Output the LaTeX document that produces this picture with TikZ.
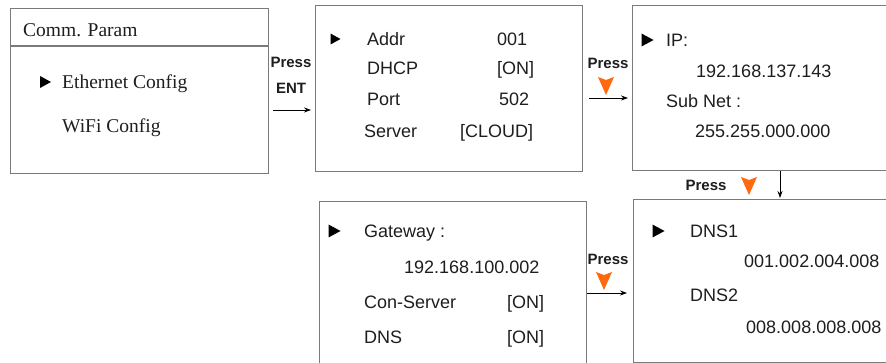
\documentclass[tikz,border=0pt]{standalone}
\usepackage{fontspec}
\setmainfont{Liberation Serif}
\newfontfamily\arialf{Liberation Sans}
\usetikzlibrary{arrows.meta,calc}
\definecolor{boxgray}{HTML}{7A7A7A}
\definecolor{txt}{HTML}{1E1E1E}
\definecolor{orng}{HTML}{FF6A0E}
\tikzset{
  x=1pt, y=-1pt,
  panel/.style={draw=boxgray, line width=1.2pt, anchor=north west, inner sep=0pt, fill=white},
  lbl/.style={anchor=west, inner sep=0pt, text height=13pt, text depth=0pt, text=txt, font=\arialf\fontsize{18}{20}\selectfont},
  slbl/.style={anchor=west, inner sep=0pt, text height=13pt, text depth=0pt, text=txt, font=\fontsize{19.5}{22}\selectfont},
  press/.style={inner sep=0pt, text height=11pt, text depth=0pt, text=txt, font=\arialf\bfseries\fontsize{15}{17}\selectfont},
  arr/.style={draw=black, line width=0.8pt, -{Stealth[length=7pt,width=5pt]}},
}
\newcommand{\ptri}[3]{\fill[black] (#1-#3,#2-#3-1) -- (#1+#3+1,#2) -- (#1-#3,#2+#3+1) -- cycle;}
\newcommand{\otri}[2]{\fill[orng] (#1-8,#2) -- (#1,#2+3) -- (#1+8,#2) -- (#1,#2+18) -- cycle;}
\begin{document}
\begin{tikzpicture}
\clip (0,0) rectangle (886,363);
\fill[white] (0,0) rectangle (886,363);
% boxes
\node[panel, minimum width=258pt, minimum height=165pt] (b1) at (10,8) {};
\node[panel, minimum width=267pt, minimum height=166pt] (b2) at (315,5) {};
\node[panel, minimum width=270pt, minimum height=165pt] (b3) at (632,5) {};
\node[panel, minimum width=270pt, minimum height=163pt] (b4) at (633,199) {};
\node[panel, minimum width=267pt, minimum height=180pt] (b5) at (319,201) {};
\coordinate (div) at (10,46);
\draw[boxgray, line width=1.2pt] (b1.west |- div) -- (b1.east |- div);
% box 1
\node[slbl] (t1) at (23,30) {Comm. Param};
\ptri{45}{82}{5}
\node[slbl] (t2) at (62,82) {Ethernet Config};
\node[slbl] (t3) at (62,126) {WiFi Config};
% box 2
\ptri{335}{39}{4.5}
\node[lbl] (a1) at (367,39) {Addr};
\node[lbl] (a2) at (497,39) {001};
\node[lbl] (a3) at (367,68) {DHCP};
\node[lbl] (a4) at (497,68) {[ON]};
\node[lbl] (a5) at (367,99) {Port};
\node[lbl] (a6) at (499,99) {502};
\node[lbl] (a7) at (364,131) {Server};
\node[lbl] (a8) at (460,131) {[CLOUD]};
% box 3
\ptri{647}{40}{5.5}
\node[lbl] (c1) at (666,40) {IP:};
\node[lbl] (c2) at (696,71) {192.168.137.143};
\node[lbl] (c3) at (666,101) {Sub Net :};
\node[lbl] (c4) at (695,131) {255.255.000.000};
% box 4
\ptri{658}{231}{5.5}
\node[lbl] (d1) at (690,231) {DNS1};
\node[lbl] (d2) at (744,261) {001.002.004.008};
\node[lbl] (d3) at (690,295) {DNS2};
\node[lbl] (d4) at (746,327) {008.008.008.008};
% box 5
\ptri{334}{231}{5.5}
\node[lbl] (e1) at (364,231) {Gateway :};
\node[lbl] (e2) at (404,267) {192.168.100.002};
\node[lbl] (e3) at (364,302) {Con-Server};
\node[lbl] (e4) at (507,302) {[ON]};
\node[lbl] (e5) at (364,337) {DNS};
\node[lbl] (e6) at (507,337) {[ON]};
% connectors
\coordinate (y1) at (0,110);
\draw[arr, shorten <=4pt, shorten >=4pt] (b1.east |- y1) -- (b2.west |- y1);
\node[press] (p1) at (291,62) {Press};
\node[press] (p1b) at (291,88) {ENT};
\coordinate (y2) at (0,98);
\draw[arr, shorten <=6pt, shorten >=4pt] (b2.east |- y2) -- (b3.west |- y2);
\node[press] (p2) at (608,63) {Press};
\otri{606}{77}
\coordinate (dn) at (780,0);
\draw[arr, shorten >=1pt] (b3.south -| dn) -- (b4.north -| dn);
\node[press] (p3) at (706,185) {Press};
\otri{749}{177}
\coordinate (y3) at (0,293);
\draw[arr, shorten >=6pt] (b5.east |- y3) -- (b4.west |- y3);
\node[press] (p4) at (608,259) {Press};
\otri{604}{272}
\end{tikzpicture}
\end{document}
